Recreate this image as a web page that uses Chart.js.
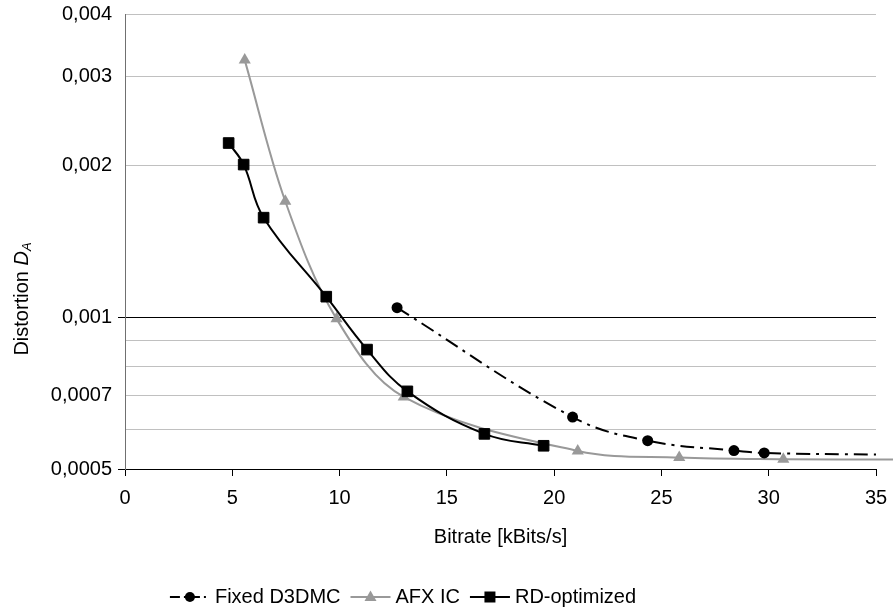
<!DOCTYPE html>
<html>
<head>
<meta charset="utf-8">
<script src="https://cdn.jsdelivr.net/npm/chart.js@4.4.1/dist/chart.umd.min.js"></script>
<style>
  html, body { margin: 0; padding: 0; background: #ffffff; }
  #wrap { width: 893px; height: 614px; position: relative; }
</style>
</head>
<body>
<div id="wrap"><canvas id="rdChart" width="893" height="614"></canvas></div>
<script>
// 数据
const seriesNames = ['Fixed D3DMC', 'AFX IC', 'RD-optimized'];

const fixedBitrate = [12.68, 20.86, 24.36, 28.38, 29.79, 35.0];
const fixedDistortion = [0.001045, 0.000634, 0.000569, 0.000544, 0.000538, 0.000534];

const afxBitrate = [5.58, 7.47, 9.86, 12.99, 21.1, 25.83, 30.68, 35.8];
const afxDistortion = [0.00324, 0.0017, 0.000993, 0.000695, 0.000543, 0.000527, 0.000523, 0.000522];

const rdBitrate = [4.83, 5.53, 6.46, 9.38, 11.28, 13.16, 16.75, 19.51];
const rdDistortion = [0.002218, 0.00201, 0.001577, 0.001099, 0.000863, 0.000713, 0.000587, 0.000556];

const xTicks = [0, 5, 10, 15, 20, 25, 30, 35];
const yTickValues = [0.0005, 0.0006, 0.0007, 0.0008, 0.0009, 0.001, 0.002, 0.003, 0.004];
const yTickLabels = ['0,0005', '', '0,0007', '', '', '0,001', '0,002', '0,003', '0,004'];

const FONT = 'Arial, "Liberation Sans", sans-serif';
const GRAY = '#999999';

function toPoints(xs, ys) {
    return xs.map((x, i) => ({ x: x, y: ys[i] }));
}

// 最后一个点只用于画线的延伸部分，不画标记
function hideLast(r, len) {
    return (ctx) => ctx.dataIndex === len - 1 ? 0 : r;
}

// 坐标轴标题和图例
const extrasPlugin = {
    id: 'extras',
    afterDraw(chart) {
        const ctx = chart.ctx;
        const area = chart.chartArea;
        ctx.save();
        ctx.fillStyle = '#000';
        ctx.textBaseline = 'middle';

        // x 轴标题
        ctx.font = '20px ' + FONT;
        ctx.textAlign = 'center';
        ctx.fillText('Bitrate [kBits/s]', (area.left + area.right) / 2, 537);

        // y 轴标题 Distortion D_A
        ctx.save();
        ctx.translate(22, 299);
        ctx.rotate(-Math.PI / 2);
        ctx.textAlign = 'left';
        const part1 = 'Distortion ';
        ctx.font = '20px ' + FONT;
        const w1 = ctx.measureText(part1).width;
        ctx.font = 'italic 20px ' + FONT;
        const w2 = ctx.measureText('D').width;
        ctx.font = 'italic 13px ' + FONT;
        const w3 = ctx.measureText('A').width;
        let x0 = -(w1 + w2 + w3) / 2;
        ctx.font = '20px ' + FONT;
        ctx.fillText(part1, x0, 0);
        ctx.font = 'italic 20px ' + FONT;
        ctx.fillText('D', x0 + w1, 0);
        ctx.font = 'italic 13px ' + FONT;
        ctx.fillText('A', x0 + w1 + w2, 5);
        ctx.restore();

        // 图例
        const legendY = 597;
        const symW = 40;
        const items = [
            { name: seriesNames[0], color: '#000', dash: [10, 4, 2, 4], marker: 'circle' },
            { name: seriesNames[1], color: GRAY, dash: [], marker: 'triangle' },
            { name: seriesNames[2], color: '#000', dash: [], marker: 'rect' }
        ];
        ctx.font = '20px ' + FONT;
        ctx.textAlign = 'left';
        let total = 0;
        items.forEach((it) => {
            it.tw = ctx.measureText(it.name).width;
            total += symW + 5 + it.tw;
        });
        total += 10 * (items.length - 1);
        let lx = 403 - total / 2;
        items.forEach((it) => {
            ctx.save();
            ctx.strokeStyle = it.color;
            ctx.lineWidth = 2;
            ctx.setLineDash(it.dash);
            ctx.beginPath();
            ctx.moveTo(lx, legendY);
            ctx.lineTo(lx + symW, legendY);
            ctx.stroke();
            ctx.setLineDash([]);
            ctx.fillStyle = it.color;
            const cx = lx + symW / 2;
            ctx.beginPath();
            if (it.marker === 'circle') {
                ctx.arc(cx, legendY, 5, 0, Math.PI * 2);
            } else if (it.marker === 'triangle') {
                ctx.moveTo(cx, legendY - 6.5);
                ctx.lineTo(cx + 6, legendY + 4);
                ctx.lineTo(cx - 6, legendY + 4);
                ctx.closePath();
            } else {
                ctx.rect(cx - 5.5, legendY - 5.5, 11, 11);
            }
            ctx.fill();
            ctx.restore();
            ctx.fillStyle = '#000';
            ctx.fillText(it.name, lx + symW + 5, legendY);
            lx += symW + 5 + it.tw + 10;
        });
        ctx.restore();
    }
};

const chart = new Chart(document.getElementById('rdChart'), {
    type: 'scatter',
    data: {
        datasets: [
            {
                label: seriesNames[2],
                data: toPoints(rdBitrate, rdDistortion),
                showLine: true,
                borderColor: '#000',
                backgroundColor: '#000',
                borderWidth: 2,
                pointStyle: 'rect',
                pointRadius: 7.5,
                pointBorderWidth: 1,
                tension: 0.4,
                order: 0
            },
            {
                label: seriesNames[0],
                data: toPoints(fixedBitrate, fixedDistortion),
                showLine: true,
                borderColor: '#000',
                backgroundColor: '#000',
                borderWidth: 2,
                borderDash: [14, 6, 3, 6],
                pointStyle: 'circle',
                pointRadius: hideLast(5.5, fixedBitrate.length),
                pointBorderWidth: 0,
                tension: 0.4,
                order: 1
            },
            {
                label: seriesNames[1],
                data: toPoints(afxBitrate, afxDistortion),
                showLine: true,
                borderColor: GRAY,
                backgroundColor: GRAY,
                borderWidth: 2,
                pointStyle: 'triangle',
                pointRadius: hideLast(7, afxBitrate.length),
                pointBorderWidth: 0,
                tension: 0.35,
                clip: false,
                order: 2
            }
        ]
    },
    options: {
        responsive: false,
        animation: false,
        layout: { padding: { top: 14, right: 17, left: 0, bottom: 0 } },
        plugins: {
            legend: { display: false },
            tooltip: { enabled: false }
        },
        scales: {
            x: {
                type: 'linear',
                min: 0,
                max: 35,
                afterBuildTicks: (scale) => {
                    scale.ticks = xTicks.map((v) => ({ value: v }));
                },
                afterFit: (scale) => {
                    scale.height = 145;
                    scale.paddingLeft = 0;
                    scale.paddingRight = 0;
                },
                border: { color: '#000', width: 1 },
                grid: {
                    drawOnChartArea: false,
                    tickLength: 7,
                    tickColor: '#000'
                },
                ticks: {
                    color: '#000',
                    font: { family: FONT, size: 20 },
                    padding: 10,
                    maxRotation: 0
                }
            },
            y: {
                type: 'logarithmic',
                min: 0.0005,
                max: 0.004,
                afterBuildTicks: (scale) => {
                    scale.ticks = yTickValues.map((v) => ({ value: v }));
                },
                afterFit: (scale) => {
                    scale.width = 125;
                    scale.paddingTop = 0;
                    scale.paddingBottom = 0;
                },
                border: { color: '#707070', width: 1 },
                grid: {
                    tickLength: 7,
                    lineWidth: 1,
                    color: (ctx) => (ctx.tick && (ctx.tick.value === 0.001 || ctx.tick.value === 0.0005)) ? '#000' : '#c0c0c0',
                    tickColor: (ctx) => (ctx.tick && (ctx.tick.value === 0.001 || ctx.tick.value === 0.0005)) ? '#000' : 'rgba(0,0,0,0)'
                },
                ticks: {
                    color: '#000',
                    font: { family: FONT, size: 20 },
                    padding: 6,
                    autoSkip: false,
                    callback: function (value, index) {
                        return yTickLabels[index];
                    }
                }
            }
        }
    },
    plugins: [extrasPlugin]
});
</script>
</body>
</html>
